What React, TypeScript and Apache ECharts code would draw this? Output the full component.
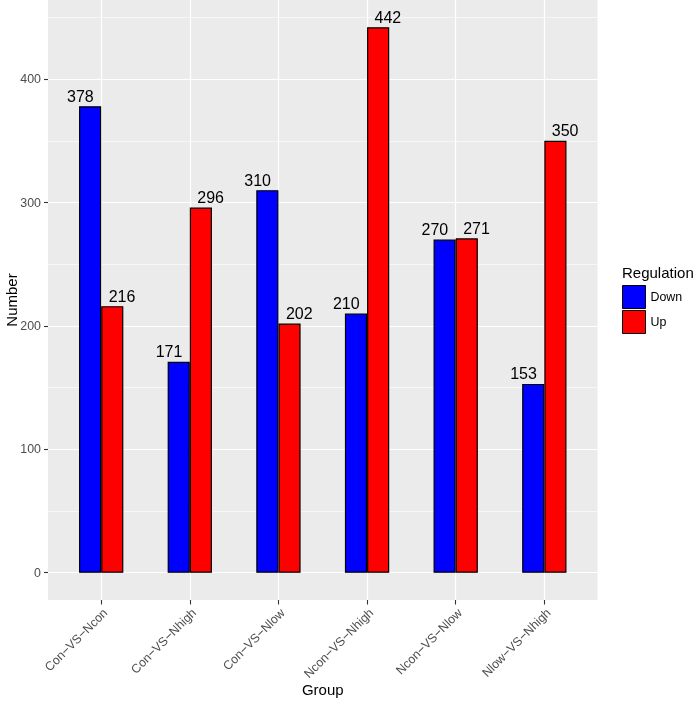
import React, { useEffect, useRef } from "react";
import * as echarts from "echarts";

const categories = [
  "Con−VS−Ncon",
  "Con−VS−Nhigh",
  "Con−VS−Nlow",
  "Ncon−VS−Nhigh",
  "Ncon−VS−Nlow",
  "Nlow−VS−Nhigh",
];
const downValues = [378, 171, 310, 210, 270, 153];
const upValues = [216, 296, 202, 442, 271, 350];
const seriesNames = ["Down", "Up"];
const yTickInterval = 100;
const yMinorInterval = 50;

const FONT = "'Liberation Sans', Arial, Helvetica, sans-serif";

export default function App() {
  const ref = useRef<HTMLDivElement>(null);

  useEffect(() => {
    document.body.style.margin = "0";
    const chart = echarts.init(ref.current!, null, { renderer: "svg" });

    // panel geometry (ggplot-like)
    const panelLeft = 48;
    const panelRight = 597.5;
    const panelTop = 0;
    const panelBottom = 600;
    const yMinPanel = -22.1;
    const yMaxPanel = 464.1;
    const pxPerUnit = (panelBottom - panelTop) / (yMaxPanel - yMinPanel);
    const zeroY = panelBottom - (0 - yMinPanel) * pxPerUnit;
    const unitX = (panelRight - panelLeft) / (categories.length + 0.2);
    const catLeft = panelLeft + 0.1 * unitX;
    const catRight = panelRight - 0.1 * unitX;
    const labelShift = 0.11 * unitX;

    const W = 696;
    const H = 705;

    chart.setOption({
      animation: false,
      textStyle: { fontFamily: FONT },
      grid: [
        {
          left: panelLeft,
          right: W - panelRight,
          top: panelTop,
          bottom: H - zeroY,
          containLabel: false,
        },
        {
          left: catLeft,
          right: W - catRight,
          top: panelTop,
          bottom: H - panelBottom,
          containLabel: false,
        },
      ],
      xAxis: [
        {
          gridIndex: 0,
          type: "value",
          min: 0,
          max: 1,
          show: false,
          splitLine: { show: false },
        },
        {
          gridIndex: 1,
          type: "category",
          data: categories,
          boundaryGap: true,
          axisLine: { show: false, onZero: false },
          axisTick: {
            show: true,
            alignWithLabel: true,
            length: 4.5,
            lineStyle: { color: "#333333", width: 1.1 },
          },
          axisLabel: {
            interval: 0,
            rotate: 45,
            margin: 6.5,
            align: "right",
            verticalAlign: "top",
            fontSize: 12.4,
            color: "#4D4D4D",
            fontFamily: FONT,
          },
          splitLine: {
            show: true,
            alignWithLabel: true,
            interval: 0,
            lineStyle: { color: "#FFFFFF", width: 1.2 },
          },
        },
      ],
      yAxis: [
        {
          gridIndex: 0,
          type: "value",
          position: "left",
          min: 0,
          max: yMaxPanel,
          interval: yMinorInterval,
          axisLine: { show: false },
          axisTick: { show: false },
          axisLabel: { show: false },
          splitLine: {
            show: true,
            showMaxLine: false,
            showMinLine: true,
            lineStyle: { color: "#FFFFFF", width: 0.6 },
          },
        },
        {
          gridIndex: 0,
          type: "value",
          position: "left",
          min: 0,
          max: yMaxPanel,
          interval: yTickInterval,
          axisLine: { show: false },
          axisTick: {
            show: true,
            length: 4,
            lineStyle: { color: "#333333", width: 1.1 },
          },
          axisLabel: {
            show: true,
            margin: 7,
            fontSize: 12.4,
            color: "#4D4D4D",
            fontFamily: FONT,
            showMaxLabel: false,
          },
          splitLine: {
            show: true,
            showMaxLine: false,
            lineStyle: { color: "#FFFFFF", width: 1.2 },
          },
        },
        {
          gridIndex: 1,
          type: "value",
          min: yMinPanel,
          max: yMaxPanel,
          show: false,
          splitLine: { show: false },
        },
      ],
      legend: {
        show: true,
        data: seriesNames,
        orient: "vertical",
        left: 622,
        top: 285,
        padding: 0,
        itemWidth: 23,
        itemHeight: 23,
        itemGap: 1,
        icon: "rect",
        itemStyle: { borderColor: "#000000", borderWidth: 1 },
        textStyle: { fontSize: 12.4, color: "#000000", fontFamily: FONT },
        selectedMode: false,
      },
      graphic: [
        {
          type: "rect",
          z: -100,
          silent: true,
          shape: {
            x: panelLeft,
            y: panelTop,
            width: panelRight - panelLeft,
            height: panelBottom - panelTop,
          },
          style: { fill: "#EBEBEB" },
        },
        {
          type: "text",
          left: 622,
          top: 265,
          style: {
            text: "Regulation",
            fontSize: 15,
            fill: "#000000",
            fontFamily: FONT,
          },
        },
        {
          type: "text",
          x: (panelLeft + panelRight) / 2,
          y: 689,
          style: {
            text: "Group",
            fontSize: 15,
            fill: "#000000",
            fontFamily: FONT,
            align: "center",
            verticalAlign: "middle",
          },
        },
        {
          type: "text",
          x: 11,
          y: (panelTop + panelBottom) / 2,
          rotation: Math.PI / 2,
          style: {
            text: "Number",
            fontSize: 15,
            fill: "#000000",
            fontFamily: FONT,
            align: "center",
            verticalAlign: "middle",
          },
        },
      ],
      series: [
        {
          name: seriesNames[0],
          type: "bar",
          xAxisIndex: 1,
          yAxisIndex: 2,
          data: downValues,
          barWidth: 0.25 * unitX,
          barGap: "0%",
          itemStyle: { color: "#0000FF", borderColor: "#000000", borderWidth: 1.2 },
          label: {
            show: true,
            position: "top",
            distance: 2,
            offset: [-labelShift, 0],
            fontSize: 16,
            color: "#000000",
            fontFamily: FONT,
          },
        },
        {
          name: seriesNames[1],
          type: "bar",
          xAxisIndex: 1,
          yAxisIndex: 2,
          data: upValues,
          barWidth: 0.25 * unitX,
          barGap: "0%",
          itemStyle: { color: "#FF0000", borderColor: "#000000", borderWidth: 1.2 },
          label: {
            show: true,
            position: "top",
            distance: 2,
            offset: [labelShift, 0],
            fontSize: 16,
            color: "#000000",
            fontFamily: FONT,
          },
        },
      ],
    });

    return () => {
      chart.dispose();
    };
  }, []);

  return (
    <div
      ref={ref}
      style={{ position: "fixed", left: 0, top: 0, width: 696, height: 705 }}
    />
  );
}
